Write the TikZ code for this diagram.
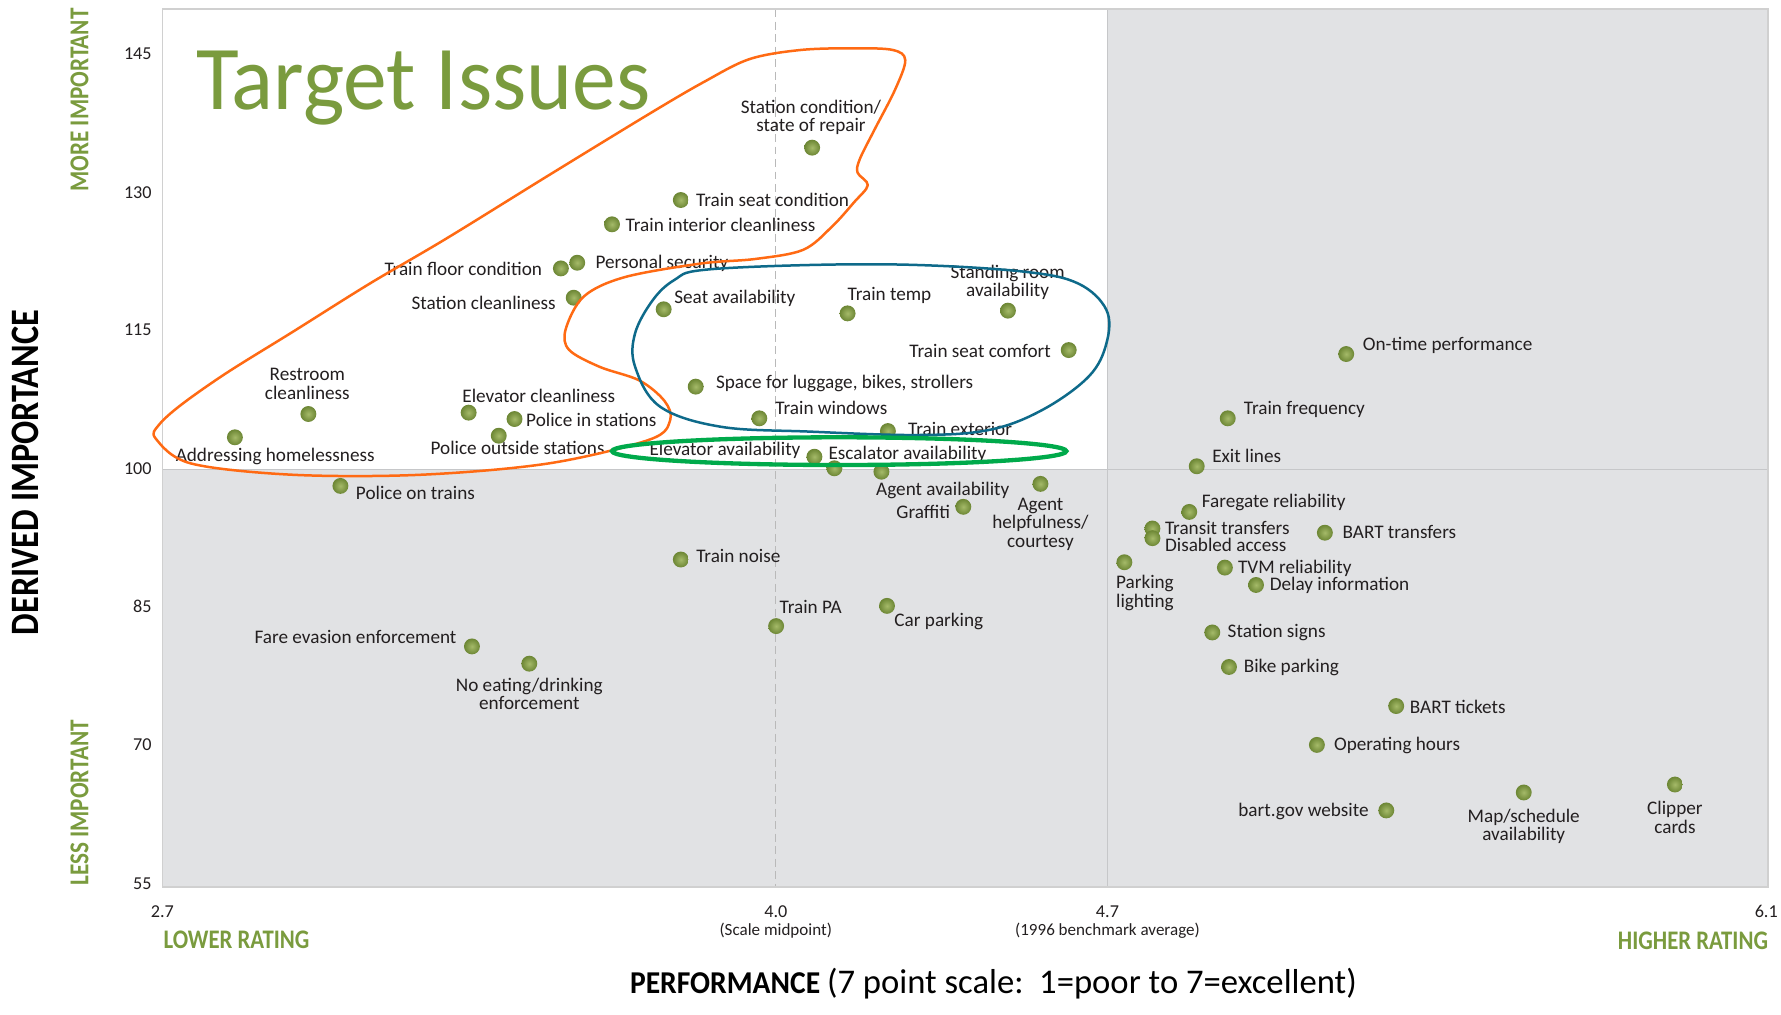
\documentclass[tikz,border=0pt]{standalone}
\usepackage{fontspec}
\setmainfont{Carlito}
\newfontfamily\condb{Carlito}[FakeStretch=0.85]
\newfontfamily\perfb{Carlito}[FakeStretch=0.93]
\newfontfamily\titlef{Carlito}[FakeStretch=0.96]
\definecolor{plotgrey}{RGB}{225,226,228}
\definecolor{divline}{RGB}{198,199,201}
\definecolor{frameline}{RGB}{208,208,208}
\definecolor{dashcol}{RGB}{185,185,185}
\definecolor{txt}{RGB}{35,31,32}
\definecolor{hgreen}{RGB}{122,155,62}
\definecolor{orangec}{RGB}{255,106,19}
\definecolor{bluec}{RGB}{14,106,138}
\definecolor{greenc}{RGB}{0,170,75}
\definecolor{dotlight}{RGB}{165,186,105}
\definecolor{dotdark}{RGB}{108,134,52}
\tikzset{
  lab/.style={font=\fontsize{16.9}{16}\selectfont, text=txt},
  labL/.style={lab, anchor=base west},
  labR/.style={lab, anchor=base east},
  labC/.style={lab, anchor=base},
  labM/.style={lab, align=center, anchor=center},
  dotn/.style={circle, minimum size=14pt, inner sep=0pt, inner color=dotlight, outer color=dotdark},
  tickn/.style={font=\fontsize{16}{16}\selectfont, text=txt},
  headg/.style={font=\condb\bfseries\fontsize{24}{24}\selectfont, text=hgreen},
}
\begin{document}
\begin{tikzpicture}[x=1pt,y=-1pt, every node/.style={inner sep=0pt, outer sep=0pt}]
\useasboundingbox (0,0) rectangle (1568,893);
% plot area
\fill[plotgrey] (143,8) rectangle (1556.5,781);
\fill[white] (143,8) rectangle (975,413.5);
\draw[dashcol, line width=1pt, dash pattern=on 7pt off 4pt] (683,8) -- (683,781);
\draw[divline, line width=1.4pt] (975,8) -- (975,781);
\draw[divline, line width=1.4pt] (143,413.5) -- (1556.5,413.5);
\draw[frameline, line width=1.2pt] (143,8) rectangle (1556.5,781);

% title
\node[anchor=base west, text=hgreen, font=\titlef\fontsize{80.3}{80}\selectfont] (title) at (172.7,96.3) {Target Issues};

% y ticks
\node[tickn, anchor=east] (y145) at (133.5,47) {145};
\node[tickn, anchor=east] (y130) at (133.5,169.6) {130};
\node[tickn, anchor=east] (y115) at (133.5,290.5) {115};
\node[tickn, anchor=east] (y100) at (133.5,412.3) {100};
\node[tickn, anchor=east] (y85) at (133.5,534.1) {85};
\node[tickn, anchor=east] (y70) at (133.5,656) {70};
\node[tickn, anchor=east] (y55) at (133.5,778) {55};
% x ticks
\node[tickn] (x27) at (143,802.4) {2.7};
\node[tickn] (x40) at (683,802.4) {4.0};
\node[tickn] (x47) at (975,802.4) {4.7};
\node[tickn] (x61) at (1555,802.4) {6.1};
\node[font=\fontsize{15}{15}\selectfont, text=txt] (xmid) at (683,819) {(Scale midpoint)};
\node[font=\fontsize{15}{15}\selectfont, text=txt] (xbench) at (975,819) {(1996 benchmark average)};

% axis headings
\node[headg, rotate=90] (more) at (70,88) {MORE IMPORTANT};
\node[headg, rotate=90] (less) at (70,706.8) {LESS IMPORTANT};
\node[font=\condb\bfseries\fontsize{35.5}{36}\selectfont, text=black, rotate=90] (derived) at (22.7,416) {DERIVED IMPORTANCE};
\node[headg, anchor=west, font=\condb\bfseries\fontsize{23.6}{24}\selectfont] (lower) at (144,827.7) {LOWER RATING};
\node[headg, anchor=east, font=\condb\bfseries\fontsize{23.6}{24}\selectfont] (higher) at (1556.6,827.9) {HIGHER RATING};
\node[anchor=base west, text=black] (perf) at (554.7,874.6) {{\perfb\bfseries\fontsize{28}{28}\selectfont PERFORMANCE}\hspace{6pt}{\fontsize{30.5}{30}\selectfont(7 point scale:\ \ 1=poor to 7=excellent)}};

% dots
\node[dotn] (dstat) at (715,130) {};
\node[dotn] (dtsc) at (599.4,176.1) {};
\node[dotn] (dtic) at (538.8,197.5) {};
\node[dotn] (dps) at (508.2,231.3) {};
\node[dotn] (dtfc) at (493.8,236.3) {};
\node[dotn] (dsc) at (505.1,262.1) {};
\node[dotn] (dsa) at (584.3,272.3) {};
\node[dotn] (dtt) at (746.2,275.9) {};
\node[dotn] (dsr) at (887.4,273.5) {};
\node[dotn] (dtscf) at (940.9,308.2) {};
\node[dotn] (dspl) at (612.5,340.4) {};
\node[dotn] (dtw) at (668.5,368.3) {};
\node[dotn] (dte) at (781.7,379.5) {};
\node[dotn] (desc) at (717,402.1) {};
\node[dotn] (delev) at (734.6,412.3) {};
\node[dotn] (dagav) at (776,415.3) {};
\node[dotn] (drc) at (271.5,364.5) {};
\node[dotn] (dah) at (206.8,385) {};
\node[dotn] (dec) at (412.6,363.3) {};
\node[dotn] (dpis) at (453,368.9) {};
\node[dotn] (dpos) at (439.1,383.6) {};
\node[dotn] (dpot) at (299.7,427.8) {};
\node[dotn] (dtn) at (599.4,492.6) {};
\node[dotn] (dtpa) at (683.3,551.2) {};
\node[dotn] (dcp) at (780.9,533.4) {};
\node[dotn] (dgr) at (848.1,446.2) {};
\node[dotn] (dahc) at (916,426) {};
\node[dotn] (dfe) at (415.5,569.1) {};
\node[dotn] (dne) at (466,584.3) {};
\node[dotn] (dexit) at (1053.6,410.5) {};
\node[dotn] (dtf) at (1080.9,368.3) {};
\node[dotn] (dotp) at (1185.2,311.7) {};
\node[dotn] (dfr) at (1047,450.7) {};
\node[dotn] (dtrt) at (1014.6,465.3) {};
\node[dotn] (dda) at (1014.6,473.8) {};
\node[dotn] (dbt) at (1166.4,469) {};
\node[dotn] (dpl) at (989.9,495) {};
\node[dotn] (dtvm) at (1078.4,499.7) {};
\node[dotn] (ddi) at (1105.8,515) {};
\node[dotn] (dss) at (1067.3,556.8) {};
\node[dotn] (dbp) at (1082,587.2) {};
\node[dotn] (dbtk) at (1229.2,621.6) {};
\node[dotn] (doh) at (1159.4,655.8) {};
\node[dotn] (dweb) at (1220.5,713.5) {};
\node[dotn] (dmap) at (1341.5,697.7) {};
\node[dotn] (dclip) at (1474.6,690.7) {};

% labels
\node[labM] (lstat) at (714,103.7) {Station condition/\\state of repair};
\node[labL] (ltsc) at (612.9,182.2) {Train seat condition};
\node[labL] (ltic) at (550.9,204.2) {Train interior cleanliness};
\node[labL] (lps) at (524.4,236.2) {Personal security};
\node[labR] (ltfc) at (477.2,242.9) {Train floor condition};
\node[labR] (lsc) at (489.3,272.2) {Station cleanliness};
\node[labL] (lsa) at (593.7,267.3) {Seat availability};
\node[labC] (ltt) at (783.1,264.9) {Train temp};
\node[labM] (lsr) at (887.1,248.8) {Standing room\\availability};
\node[labR] (ltscf) at (925.1,314.8) {Train seat comfort};
\node[labL] (lspl) at (630.4,342.1) {Space for luggage, bikes, strollers};
\node[labL] (ltw) at (682.7,364.7) {Train windows};
\node[labL] (lte) at (799.6,383.8) {Train exterior};
\node[labR] (lelev) at (704.7,400.8) {Elevator availability};
\node[labL] (lesc) at (729.5,404.3) {Escalator availability};
\node[labL] (lagav) at (771.4,436) {Agent availability};
\node[labM] (lrc) at (270.6,338) {Restroom\\cleanliness};
\node[labC] (lah) at (242.3,406.7) {Addressing homelessness};
\node[labL] (lec) at (407.1,354.4) {Elevator cleanliness};
\node[labL] (lpis) at (463.3,375.6) {Police in stations};
\node[labC] (lpos) at (455.7,399.9) {Police outside stations};
\node[labL] (lpot) at (313.4,440) {Police on trains};
\node[labL] (ltn) at (613,495.2) {Train noise};
\node[labL] (ltpa) at (686.4,540.5) {Train PA};
\node[labL] (lcp) at (787.5,551.9) {Car parking};
\node[labR] (lgr) at (836.5,456.8) {Graffiti};
\node[labM] (lahc) at (916,461.6) {Agent\\helpfulness/\\courtesy};
\node[labR] (lfe) at (401.8,566.7) {Fare evasion enforcement};
\node[labM] (lne) at (466,610.7) {No eating/drinking\\enforcement};
\node[labL] (lexit) at (1067.3,407.1) {Exit lines};
\node[labL] (ltf) at (1095.1,364.7) {Train frequency};
\node[labL] (lotp) at (1199.9,308.4) {On-time performance};
\node[labL] (lfr) at (1058.1,446.7) {Faregate reliability};
\node[labL] (ltrt) at (1025.7,470.4) {Transit transfers};
\node[labL] (lda) at (1025.7,485.7) {Disabled access};
\node[labL] (lbt) at (1182.1,474.2) {BART transfers};
\node[labM] (lpl) at (1008,522.1) {Parking\\lighting};
\node[labL] (ltvm) at (1090,504.9) {TVM reliability};
\node[labL] (ldi) at (1117.9,520.2) {Delay information};
\node[labL] (lss) at (1080.9,561.2) {Station signs};
\node[labL] (lbp) at (1095.1,592.4) {Bike parking};
\node[labL] (lbtk) at (1241.3,628) {BART tickets};
\node[labL] (loh) at (1174.5,661) {Operating hours};
\node[labR] (lweb) at (1204.9,719.2) {bart.gov website};
\node[labM] (lmap) at (1341.5,727.2) {Map/schedule\\availability};
\node[labM] (lclip) at (1474.6,719.6) {Clipper\\cards};

% grouping outlines
\draw[orangec, line width=2.2pt, line join=round] plot[smooth cycle, tension=0.55] coordinates {
 (137,386) (168,408) (258,418) (370,418) (483,408) (572,387) (590,370) (585,353)
 (563,335) (528,323) (501,308) (498,290) (514,261) (550,244) (617,232) (665,228)
 (707,220) (732,200) (752,178) (764,163) (755,152) (757,140) (770,114) (788,79)
 (797,53) (786,44) (752,42.5) (705,44) (660,52) (620,72) (572,100) (482,155)
 (393,210) (325,250) (258,292) (200,328) (160,356) (140,374)};
\draw[bluec, line width=2.2pt] plot[smooth cycle, tension=0.6] coordinates {
 (618.8,237.7) (713.2,233.3) (807.5,233.3) (901.8,239.2) (949,249.5) (974.1,272.9)
 (974.1,302.3) (958.4,331.6) (917.5,361) (870.4,378.6) (807.5,383) (713.2,380)
 (634.5,375.7) (581.1,358) (559.1,322.8) (559.1,293.5) (574.8,264.1) (593.7,246.5)};
\draw[greenc, line width=3.8pt] (738.8,397.2) ellipse [x radius=200, y radius=12.2];
\end{tikzpicture}
\end{document}
